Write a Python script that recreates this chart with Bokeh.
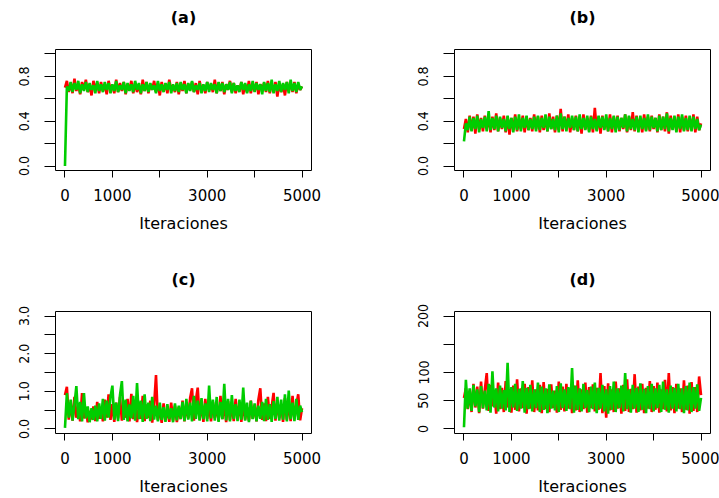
from bokeh.plotting import figure
from bokeh.layouts import column, row
from bokeh.models import Range1d, FixedTicker, CustomJSTickFormatter, Title
from bokeh.embed import file_html
from bokeh.resources import INLINE

iterations = list(range(0, 5001, 40))

x_ticks = [0, 1000, 2000, 3000, 4000, 5000]
x_labels = ["0", "1000", "", "3000", "", "5000"]

y_ticks_ab = [0.0, 0.2, 0.4, 0.6, 0.8, 1.0]
y_labels_ab = ["0.0", "", "0.4", "", "0.8", ""]
y_ticks_c = [0.0, 0.5, 1.0, 1.5, 2.0, 2.5, 3.0]
y_labels_c = ["0.0", "", "1.0", "", "2.0", "", "3.0"]
y_ticks_d = [0, 50, 100, 150, 200]
y_labels_d = ["0", "50", "100", "", "200"]

titles = ["(a)", "(b)", "(c)", "(d)"]
x_title = "Iteraciones"

a_red = [0.70, 0.76, 0.66, 0.74, 0.65, 0.78, 0.67, 0.73, 0.64, 0.75, 0.68, 0.77, 0.66, 0.72, 0.63, 0.76, 0.69, 0.74, 0.65, 0.75,
         0.67, 0.73, 0.64, 0.76, 0.68, 0.72, 0.65, 0.77, 0.66, 0.74, 0.67, 0.75, 0.64, 0.73, 0.68, 0.76, 0.65, 0.74, 0.66, 0.72,
         0.64, 0.77, 0.67, 0.75, 0.65, 0.73, 0.68, 0.76, 0.66, 0.74, 0.63, 0.75, 0.67, 0.73, 0.65, 0.77, 0.68, 0.72, 0.66, 0.75,
         0.64, 0.74, 0.67, 0.76, 0.65, 0.73, 0.68, 0.75, 0.66, 0.74, 0.64, 0.76, 0.67, 0.72, 0.65, 0.75, 0.68, 0.73, 0.66, 0.77,
         0.65, 0.74, 0.67, 0.75, 0.64, 0.73, 0.68, 0.76, 0.66, 0.74, 0.65, 0.72, 0.67, 0.75, 0.64, 0.73, 0.66, 0.76, 0.65, 0.74,
         0.67, 0.75, 0.64, 0.73, 0.68, 0.74, 0.66, 0.76, 0.65, 0.73, 0.67, 0.75, 0.62, 0.74, 0.66, 0.73, 0.63, 0.75, 0.67, 0.74,
         0.66, 0.75, 0.65, 0.73, 0.68, 0.71]
a_green = [0.00, 0.71, 0.67, 0.75, 0.66, 0.74, 0.68, 0.76, 0.65, 0.73, 0.67, 0.75, 0.66, 0.74, 0.68, 0.72, 0.65, 0.76, 0.67, 0.73,
           0.66, 0.75, 0.68, 0.74, 0.65, 0.73, 0.67, 0.76, 0.66, 0.72, 0.68, 0.75, 0.65, 0.74, 0.67, 0.73, 0.66, 0.76, 0.68, 0.74,
           0.65, 0.73, 0.67, 0.75, 0.66, 0.74, 0.68, 0.72, 0.65, 0.76, 0.67, 0.73, 0.66, 0.74, 0.68, 0.75, 0.65, 0.73, 0.67, 0.74,
           0.66, 0.75, 0.68, 0.73, 0.65, 0.74, 0.67, 0.76, 0.66, 0.72, 0.68, 0.74, 0.65, 0.73, 0.67, 0.75, 0.66, 0.74, 0.68, 0.73,
           0.65, 0.75, 0.67, 0.74, 0.66, 0.73, 0.68, 0.75, 0.65, 0.74, 0.67, 0.72, 0.66, 0.75, 0.68, 0.74, 0.65, 0.73, 0.67, 0.76,
           0.66, 0.74, 0.68, 0.73, 0.64, 0.75, 0.67, 0.74, 0.66, 0.77, 0.65, 0.73, 0.67, 0.76, 0.66, 0.74, 0.68, 0.75, 0.65, 0.77,
           0.67, 0.74, 0.66, 0.75, 0.68, 0.71]

b_red = [0.33, 0.42, 0.30, 0.45, 0.32, 0.44, 0.29, 0.46, 0.33, 0.43, 0.31, 0.45, 0.34, 0.42, 0.30, 0.44, 0.32, 0.47, 0.31, 0.43,
         0.33, 0.45, 0.30, 0.44, 0.28, 0.43, 0.32, 0.46, 0.31, 0.42, 0.33, 0.45, 0.30, 0.44, 0.32, 0.43, 0.31, 0.46, 0.33, 0.44,
         0.30, 0.45, 0.32, 0.43, 0.31, 0.47, 0.33, 0.44, 0.30, 0.45, 0.32, 0.51, 0.31, 0.44, 0.33, 0.46, 0.30, 0.43, 0.32, 0.45,
         0.31, 0.44, 0.29, 0.46, 0.33, 0.43, 0.31, 0.45, 0.30, 0.52, 0.32, 0.44, 0.29, 0.45, 0.33, 0.43, 0.31, 0.46, 0.30, 0.44,
         0.32, 0.45, 0.31, 0.43, 0.33, 0.46, 0.30, 0.44, 0.32, 0.48, 0.31, 0.45, 0.33, 0.43, 0.30, 0.46, 0.32, 0.44, 0.31, 0.45,
         0.33, 0.43, 0.30, 0.46, 0.32, 0.44, 0.31, 0.48, 0.29, 0.45, 0.33, 0.43, 0.31, 0.46, 0.30, 0.44, 0.32, 0.45, 0.31, 0.43,
         0.33, 0.46, 0.30, 0.44, 0.32, 0.38]
b_green = [0.22, 0.38, 0.32, 0.44, 0.31, 0.43, 0.33, 0.45, 0.30, 0.42, 0.34, 0.44, 0.31, 0.49, 0.32, 0.43, 0.33, 0.45, 0.31, 0.44,
           0.34, 0.42, 0.31, 0.45, 0.33, 0.43, 0.30, 0.44, 0.32, 0.46, 0.31, 0.43, 0.34, 0.45, 0.32, 0.42, 0.33, 0.44, 0.31, 0.45,
           0.32, 0.43, 0.34, 0.46, 0.31, 0.44, 0.33, 0.42, 0.32, 0.45, 0.30, 0.47, 0.33, 0.44, 0.31, 0.43, 0.34, 0.45, 0.32, 0.44,
           0.31, 0.46, 0.33, 0.43, 0.32, 0.45, 0.30, 0.44, 0.33, 0.42, 0.31, 0.45, 0.34, 0.44, 0.32, 0.46, 0.31, 0.43, 0.33, 0.45,
           0.30, 0.44, 0.32, 0.43, 0.34, 0.46, 0.31, 0.45, 0.33, 0.42, 0.32, 0.44, 0.30, 0.45, 0.33, 0.43, 0.31, 0.46, 0.32, 0.44,
           0.34, 0.43, 0.31, 0.45, 0.32, 0.44, 0.33, 0.47, 0.31, 0.43, 0.32, 0.45, 0.30, 0.44, 0.33, 0.46, 0.31, 0.43, 0.32, 0.45,
           0.31, 0.44, 0.33, 0.42, 0.32, 0.37]

c_red = [0.90, 1.12, 0.25, 0.70, 0.22, 0.85, 0.30, 0.62, 0.20, 0.95, 0.28, 0.55, 0.18, 0.48, 0.25, 0.60, 0.21, 0.72, 0.27, 0.58,
         0.20, 0.78, 0.30, 0.92, 0.24, 0.66, 0.19, 0.70, 0.28, 0.85, 0.22, 0.62, 0.30, 0.80, 0.20, 0.93, 0.26, 0.72, 0.18, 0.58,
         0.27, 0.88, 0.21, 0.65, 0.29, 0.75, 0.17, 0.62, 1.43, 0.24, 0.55, 0.16, 0.68, 0.25, 0.50, 0.19, 0.70, 0.23, 0.62, 0.18,
         0.58, 0.26, 0.75, 0.20, 0.64, 0.28, 0.82, 1.08, 0.22, 0.75, 1.10, 0.25, 0.68, 0.19, 0.80, 0.27, 0.60, 0.20, 0.72, 0.29,
         0.58, 0.22, 0.88, 0.26, 0.66, 0.18, 0.74, 0.24, 0.62, 0.21, 0.80, 0.28, 0.65, 0.19, 0.70, 0.25, 0.58, 0.22, 0.75, 0.27,
         0.62, 0.20, 0.78, 1.08, 0.24, 0.68, 0.21, 0.85, 0.27, 0.60, 0.96, 0.22, 0.72, 0.28, 0.66, 0.19, 0.82, 0.25, 0.70, 0.21,
         0.88, 0.26, 0.64, 0.92, 0.23, 0.55]
c_green = [0.03, 0.95, 0.30, 0.78, 0.22, 0.65, 1.14, 0.26, 0.72, 0.20, 0.95, 0.28, 0.60, 0.18, 0.55, 0.24, 0.62, 0.20, 0.68, 0.27,
           0.80, 0.22, 0.75, 0.30, 0.85, 1.15, 0.25, 0.70, 0.21, 0.90, 1.27, 0.24, 0.78, 0.20, 0.65, 0.28, 0.88, 0.22, 1.22, 0.26,
           0.75, 0.19, 0.92, 0.27, 0.70, 0.21, 0.85, 0.25, 0.62, 0.20, 0.70, 0.24, 0.58, 0.19, 0.66, 0.26, 0.55, 0.18, 0.68, 0.23,
           0.62, 0.27, 0.72, 0.21, 0.80, 0.25, 0.70, 0.20, 0.88, 0.27, 0.75, 0.22, 0.82, 0.26, 0.68, 0.20, 1.15, 0.28, 0.78, 0.22,
           0.85, 0.19, 0.72, 0.26, 1.20, 0.23, 0.80, 0.20, 0.90, 0.27, 0.66, 0.21, 0.78, 0.25, 1.10, 0.22, 0.70, 0.18, 0.75, 0.26,
           0.68, 0.20, 0.62, 0.27, 0.72, 0.21, 0.80, 0.24, 0.66, 0.19, 0.74, 0.27, 0.85, 0.22, 0.78, 0.25, 0.92, 0.20, 1.02, 0.26,
           0.70, 0.21, 0.80, 0.24, 0.62, 0.45]

d_red = [55, 72, 35, 68, 30, 80, 38, 75, 28, 84, 36, 70, 99, 32, 78, 40, 66, 27, 82, 35,
         73, 30, 85, 38, 69, 29, 77, 34, 88, 31, 72, 37, 80, 27, 74, 36, 86, 30, 70, 33,
         78, 28, 83, 35, 71, 30, 79, 37, 68, 29, 84, 34, 75, 31, 80, 36, 72, 28, 77, 33,
         86, 30, 70, 35, 82, 29, 74, 37, 79, 31, 73, 34, 99, 28, 76, 20, 81, 33, 70, 30,
         84, 36, 72, 27, 78, 32, 88, 30, 71, 35, 97, 29, 75, 33, 80, 28, 73, 36, 85, 30,
         76, 34, 82, 29, 70, 35, 87, 31, 99, 33, 74, 28, 80, 36, 72, 30, 86, 34, 77, 27,
         83, 32, 74, 30, 93, 60]
d_green = [3, 87, 36, 72, 32, 78, 40, 70, 30, 76, 37, 68, 33, 80, 29, 102, 38, 72, 31, 77,
           36, 69, 33, 117, 30, 74, 38, 80, 32, 71, 36, 85, 29, 73, 35, 78, 31, 70, 37, 82,
           30, 75, 34, 72, 28, 79, 36, 68, 33, 76, 30, 81, 37, 70, 32, 74, 35, 108, 29, 77,
           34, 72, 31, 80, 37, 69, 30, 75, 35, 82, 28, 73, 36, 78, 31, 70, 27, 76, 34, 84,
           30, 72, 37, 77, 31, 99, 35, 70, 29, 78, 36, 73, 30, 81, 34, 71, 28, 76, 35, 80,
           31, 72, 37, 78, 30, 84, 34, 70, 29, 77, 36, 73, 31, 80, 35, 72, 28, 76, 33, 82,
           30, 74, 36, 79, 32, 55]

RED = "#FF0000"
GREEN = "#00CD00"
FONT = "DejaVu Sans"
YFONT = "'Liberation Sans Narrow', 'DejaVu Sans Condensed', 'DejaVu Sans'"


def label_formatter(vals, labels):
    return CustomJSTickFormatter(
        args=dict(vals=vals, labels=labels),
        code="for (let i = 0; i < vals.length; i++) { if (Math.abs(vals[i] - tick) < 1e-9) return labels[i]; } return '';",
    )


def make_panel(title, red, green, y_ticks, y_labels, width, left, right, top, bottom):
    xpad = 0.04 * (x_ticks[-1] - x_ticks[0])
    ypad = 0.04 * (y_ticks[-1] - y_ticks[0])
    p = figure(width=width, height=249,
               x_range=Range1d(x_ticks[0] - xpad, x_ticks[-1] + xpad),
               y_range=Range1d(y_ticks[0] - ypad, y_ticks[-1] + ypad),
               output_backend="svg", toolbar_location=None,
               min_border_left=left, min_border_right=right,
               min_border_top=top, min_border_bottom=bottom)
    p.line(iterations, red, line_color=RED, line_width=2.6)
    p.line(iterations, green, line_color=GREEN, line_width=2.6)

    p.xgrid.visible = False
    p.ygrid.visible = False
    p.outline_line_color = "black"
    p.outline_line_width = 1
    p.outline_line_alpha = 1
    p.background_fill_color = "white"
    p.border_fill_color = "white"

    # spacer title keeps the panel title away from the plot box
    p.add_layout(Title(text=" ", text_font_size="5px"), "above")
    p.add_layout(Title(text=title, text_font=FONT, text_font_size="16px",
                       text_font_style="bold", text_color="black", align="center"), "above")

    xa = p.xaxis[0]
    xa.ticker = FixedTicker(ticks=x_ticks)
    xa.formatter = label_formatter(x_ticks, x_labels)
    xa.axis_line_color = None
    xa.major_tick_out = 7
    xa.major_tick_in = 0
    xa.major_tick_line_color = "black"
    xa.minor_tick_line_color = None
    xa.major_label_text_font = FONT
    xa.major_label_text_font_size = "15px"
    xa.major_label_text_color = "black"
    xa.major_label_standoff = 11
    xa.axis_label = x_title
    xa.axis_label_text_font = FONT
    xa.axis_label_text_font_size = "16px"
    xa.axis_label_text_font_style = "normal"
    xa.axis_label_text_color = "black"
    xa.axis_label_standoff = 10

    ya = p.yaxis[0]
    ya.ticker = FixedTicker(ticks=y_ticks)
    ya.formatter = label_formatter(y_ticks, y_labels)
    ya.axis_line_color = None
    ya.major_tick_out = 11
    ya.major_tick_in = 0
    ya.major_tick_line_color = "black"
    ya.minor_tick_line_color = None
    ya.major_label_orientation = "vertical"
    ya.major_label_text_font = YFONT
    ya.major_label_text_font_size = "14px"
    ya.major_label_text_color = "black"
    ya.major_label_standoff = 15
    return p


pa = make_panel(titles[0], a_red, a_green, y_ticks_ab, y_labels_ab, 390, 55, 79, 46, 79)
pb = make_panel(titles[1], b_red, b_green, y_ticks_ab, y_labels_ab, 329, 64, 9, 46, 79)
pc = make_panel(titles[2], c_red, c_green, y_ticks_c, y_labels_c, 390, 55, 79, 62, 63)
pd = make_panel(titles[3], d_red, d_green, y_ticks_d, y_labels_d, 329, 64, 9, 62, 63)

layout = column(row(pa, pb, spacing=0), row(pc, pd, spacing=0), spacing=0)
open("out.html", "w").write(file_html(layout, INLINE))
